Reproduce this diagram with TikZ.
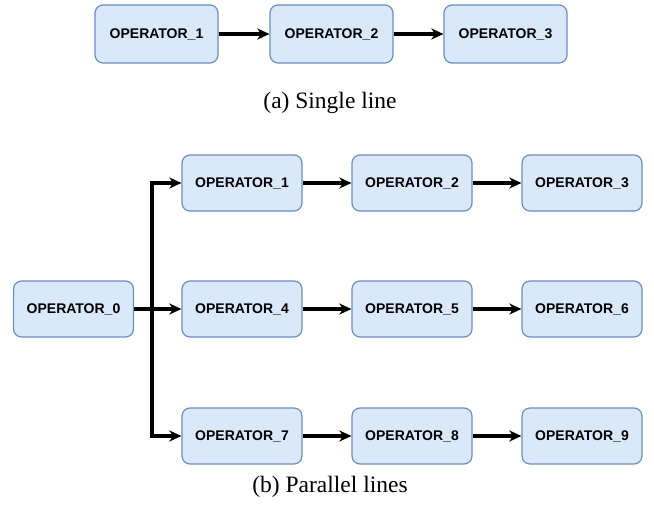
\documentclass[tikz,border=0pt]{standalone}
\usepackage{fontspec}
\setmainfont{Liberation Serif}
\setsansfont{Liberation Sans}
\usetikzlibrary{arrows.meta}
\definecolor{opfill}{HTML}{DAE8FC}
\definecolor{opdraw}{HTML}{6C8EBF}
\tikzset{
  opbox/.style={draw=opdraw, fill=opfill, line width=1.2pt, rounded corners=8pt,
    minimum width=120pt, minimum height=56pt, inner sep=0pt,
    font=\sffamily\bfseries\fontsize{14}{16}\selectfont},
  opboxa/.style={opbox, minimum width=123pt, minimum height=58pt},
  flow/.style={line width=3.2pt, -{Stealth[length=12pt,width=11pt,inset=3.5pt]}},
  caption/.style={font=\fontsize{23.5}{28}\selectfont, inner sep=0pt}
}
\begin{document}
\begin{tikzpicture}[x=1pt,y=-1pt]
\useasboundingbox (0,0) rectangle (654,511);
% (a) single line
\node[opboxa] (a1) at (156.5,34) {OPERATOR\_1};
\node[opboxa] (a2) at (331.5,34) {OPERATOR\_2};
\node[opboxa] (a3) at (505.5,34) {OPERATOR\_3};
\draw[flow] (a1) -- (a2);
\draw[flow] (a2) -- (a3);
\node[caption] (capa) at (330,103) {(a) Single line};
% (b) parallel lines
\node[opbox] (b0) at (73.5,309) {OPERATOR\_0};
\node[opbox] (b1) at (242,183) {OPERATOR\_1};
\node[opbox] (b2) at (412,183) {OPERATOR\_2};
\node[opbox] (b3) at (582,183) {OPERATOR\_3};
\node[opbox] (b4) at (242,309) {OPERATOR\_4};
\node[opbox] (b5) at (412,309) {OPERATOR\_5};
\node[opbox] (b6) at (582,309) {OPERATOR\_6};
\node[opbox] (b7) at (242,436) {OPERATOR\_7};
\node[opbox] (b8) at (412,436) {OPERATOR\_8};
\node[opbox] (b9) at (582,436) {OPERATOR\_9};
\coordinate (split) at (152,309);
\draw[flow] (b0) -- (b4);
\draw[flow] (b0.east) -- (split) |- (b1.west);
\draw[flow] (split) |- (b7.west);
\draw[flow] (b1) -- (b2);
\draw[flow] (b2) -- (b3);
\draw[flow] (b4) -- (b5);
\draw[flow] (b5) -- (b6);
\draw[flow] (b7) -- (b8);
\draw[flow] (b8) -- (b9);
\node[caption] (capb) at (330,487) {(b) Parallel lines};
\end{tikzpicture}
\end{document}
